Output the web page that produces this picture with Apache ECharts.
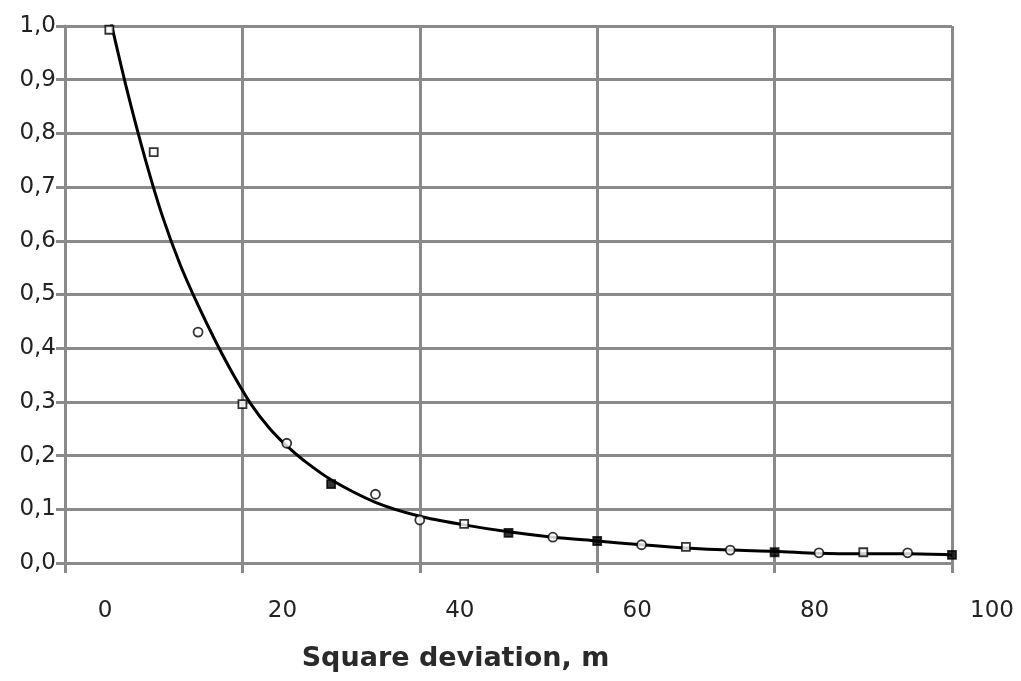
<!DOCTYPE html>
<html>
<head>
<meta charset="utf-8">
<script src="https://cdn.jsdelivr.net/npm/echarts@6/dist/echarts.min.js"></script>
<style>html,body{margin:0;padding:0;background:#fff}#c{width:1021px;height:681px}</style>
</head>
<body>
<div id="c"></div>
<script>
// Tick labels shown under the x gridlines (reference draws them shifted right)
const xTickLabels = ['0', '20', '40', '60', '80', '100'];
// Fitted curve
const curveX = [0, 2, 4, 6, 8, 10, 12, 14, 16, 18, 20, 22, 25, 30, 35, 40, 45, 50, 55, 60, 65, 70, 75, 80, 85, 90, 95];
const curveY = [1.02, 0.88, 0.755, 0.645, 0.555, 0.48, 0.412, 0.35, 0.295, 0.252, 0.218, 0.19, 0.155, 0.113, 0.087, 0.071, 0.058, 0.048, 0.041, 0.034, 0.028, 0.024, 0.022, 0.018, 0.017, 0.017, 0.015];
// Measured points
const pointX = [0, 5, 10, 15, 20, 25, 30, 35, 40, 45, 50, 55, 60, 65, 70, 75, 80, 85, 90, 95];
const pointY = [0.993, 0.765, 0.430, 0.296, 0.223, 0.147, 0.128, 0.080, 0.073, 0.056, 0.048, 0.041, 0.034, 0.030, 0.024, 0.020, 0.019, 0.020, 0.019, 0.015];
const pointShape = ['sq', 'sq', 'ci', 'sq', 'ci', 'fs', 'ci', 'ci', 'sq', 'fs', 'ci', 'fs', 'ci', 'sq', 'ci', 'fs', 'ci', 'sq', 'ci', 'fs'];

const FONT = 'DejaVu Sans';
const GRID = '#8a8a8a';

const shapeStyle = {
  sq: { symbol: 'rect', fill: '#fff', size: 8 },
  ci: { symbol: 'circle', fill: '#fff', size: 9 },
  fs: { symbol: 'rect', fill: '#000', size: 8 }
};

const curveData = curveX.map((x, i) => [x, curveY[i]]);
const pointData = pointX.map((x, i) => {
  const s = shapeStyle[pointShape[i]];
  return {
    value: [x, pointY[i]],
    symbol: s.symbol,
    symbolSize: s.size,
    itemStyle: { color: s.fill, borderColor: '#000', borderWidth: 1.8 }
  };
});

const chart = echarts.init(document.getElementById('c'), null, { renderer: 'canvas' });
chart.setOption({
  backgroundColor: '#fff',
  animation: false,
  grid: { left: 65, right: 69, top: 26, bottom: 118, containLabel: false },
  xAxis: {
    type: 'value',
    min: -5, max: 95, interval: 20,
    name: 'Square deviation, m',
    nameLocation: 'middle',
    nameGap: 82,
    nameTextStyle: { fontFamily: FONT, fontSize: 27, fontWeight: 'bold', color: '#2a2a2a', padding: [0, 106, 0, 0] },
    axisLine: { show: true, onZero: false, lineStyle: { color: GRID, width: 3 } },
    axisTick: { show: true, length: 10, lineStyle: { color: GRID, width: 3 } },
    axisLabel: {
      show: true, margin: 37, fontFamily: FONT, fontSize: 23, color: '#222',
      showMinLabel: true, showMaxLabel: true, hideOverlap: false,
      padding: [0, 0, 0, 80],
      formatter: (v, i) => xTickLabels[i]
    },
    splitLine: { show: true, lineStyle: { color: GRID, width: 3 } }
  },
  yAxis: {
    type: 'value',
    min: 0, max: 1, interval: 0.1,
    axisLine: { show: true, onZero: false, lineStyle: { color: GRID, width: 3 } },
    axisTick: { show: true, length: 9, lineStyle: { color: GRID, width: 3 } },
    axisLabel: {
      show: true, margin: 9, fontFamily: FONT, fontSize: 23, color: '#222',
      formatter: v => v.toFixed(1).replace('.', ',')
    },
    splitLine: { show: true, lineStyle: { color: GRID, width: 3 } }
  },
  series: [
    {
      type: 'line',
      data: curveData,
      smooth: 0.3,
      showSymbol: false,
      lineStyle: { color: '#000', width: 3 },
      z: 2
    },
    {
      type: 'scatter',
      data: pointData,
      z: 3
    }
  ]
});
</script>
</body>
</html>
